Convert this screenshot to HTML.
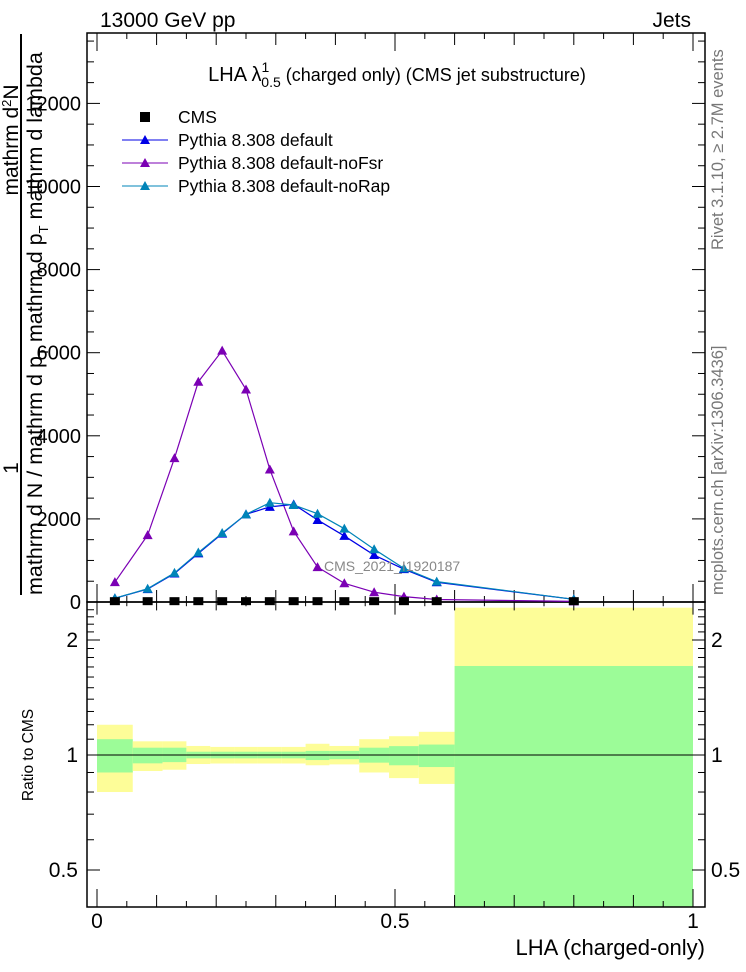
<!DOCTYPE html>
<html><head><meta charset="utf-8"><style>
body{margin:0;background:#fff;}
svg{display:block;font-family:"Liberation Sans",sans-serif;}
</style></head><body>
<svg id="c" width="746" height="972" xmlns="http://www.w3.org/2000/svg">
<g id="ratioBands"></g>
<g id="axes"></g>
<g id="series"></g>
<text x="100" y="27" font-size="21">13000 GeV pp</text>
<text x="691" y="27" font-size="21" text-anchor="end">Jets</text>
<text x="397" y="81" font-size="20" text-anchor="middle">LHA λ<tspan font-size="14" dy="-9">1</tspan><tspan font-size="14" dx="-8" dy="15">0.5</tspan><tspan font-size="18" dy="-6"> (charged only) (CMS jet substructure)</tspan></text>
<text x="324" y="571" font-size="14" fill="#888">CMS_2021_I1920187</text>
<text x="705" y="955" font-size="22" text-anchor="end">LHA (charged-only)</text>
<text transform="translate(33,755) rotate(-90)" font-size="15.5" text-anchor="middle">Ratio to CMS</text>
<line x1="21" y1="34" x2="21" y2="595" stroke="#000" stroke-width="2"/>
<text transform="translate(18,140) rotate(-90)" font-size="21" text-anchor="middle">mathrm d<tspan font-size="13" dy="-7">2</tspan><tspan dy="7">N</tspan></text>
<text transform="translate(18,468) rotate(-90)" font-size="21" text-anchor="middle">1</text>
<text transform="translate(42,595) rotate(-90)" font-size="21.5">mathrm d N / mathrm d p<tspan font-size="13" dy="6">T</tspan><tspan dy="-6"> mathrm d p</tspan><tspan font-size="13" dy="6">T</tspan><tspan dy="-6"> mathrm d lambda</tspan></text>
<text transform="translate(723,250) rotate(-90)" font-size="16.5" fill="#777">Rivet 3.1.10, ≥ 2.7M events</text>
<text transform="translate(723,595) rotate(-90)" font-size="16.5" fill="#777">mcplots.cern.ch [arXiv:1306.3436]</text>
<g id="legend"></g>
</svg>
<script>
const binEdges=[0,0.06,0.11,0.15,0.19,0.23,0.27,0.31,0.35,0.39,0.44,0.49,0.54,0.6,1.0];
const binCenters=[0.03,0.085,0.13,0.17,0.21,0.25,0.29,0.33,0.37,0.415,0.465,0.515,0.57,0.8];
const cmsValues=[20,20,20,20,20,20,20,20,20,20,20,20,20,20];
const defaultValues=[90,310,685,1170,1645,2110,2290,2350,1975,1590,1130,790,475,65];
const noFsrValues=[477,1609,3462,5300,6049,5115,3190,1700,840,450,236,130,60,15];
const noRapValues=[90,320,700,1190,1660,2110,2390,2335,2125,1765,1270,810,490,65];
const totUp=[1.20,1.086,1.086,1.056,1.05,1.05,1.05,1.05,1.07,1.056,1.10,1.12,1.15,2.43];
const totDn=[0.80,0.908,0.915,0.947,0.95,0.95,0.95,0.95,0.94,0.945,0.90,0.87,0.84,0.30];
const statUp=[1.10,1.045,1.045,1.02,1.02,1.02,1.02,1.02,1.025,1.025,1.045,1.055,1.065,1.71];
const statDn=[0.90,0.951,0.958,0.98,0.98,0.98,0.98,0.98,0.97,0.975,0.955,0.94,0.93,0.30];
const yMainTicks=[0,2000,4000,6000,8000,10000,12000];
const xTickLabels=[0,0.5,1];
const ratioTickLabels=[0.5,1,2];

const NS="http://www.w3.org/2000/svg";
const L=87,R=705,T=33,MB=602,RB=907;
const X=v=>97+596*v;
const Y=v=>602-v*0.04155;
const RY=r=>755-115*Math.log2(r);
function mk(tag,attrs,parent){const e=document.createElementNS(NS,tag);for(const k in attrs)e.setAttribute(k,attrs[k]);parent.appendChild(e);return e;}
const bands=document.getElementById('ratioBands'),axes=document.getElementById('axes'),ser=document.getElementById('series'),leg=document.getElementById('legend');
const clipTop=v=>Math.max(604,Math.min(RB,v));
for(let i=0;i<binCenters.length;i++){
  const x1=X(binEdges[i]),x2=X(binEdges[i+1]);
  let a=clipTop(RY(totUp[i])),b=clipTop(RY(totDn[i]));
  const y=mk('rect',{x:x1,y:a,width:x2-x1,height:b-a,fill:'#fdfd98'},bands);
  
  
  a=clipTop(RY(statUp[i]));b=clipTop(RY(statDn[i]));
  const g=mk('rect',{x:x1,y:a,width:x2-x1,height:b-a,fill:'#9cfc98'},bands);
  
  
}
const one=mk('line',{x1:L,x2:R,y1:RY(1),y2:RY(1),stroke:'#000','stroke-width':1},axes);


const f1=mk('rect',{x:L,y:T,width:R-L,height:MB-T,fill:'none',stroke:'#000','stroke-width':1.5},axes);


const f2=mk('rect',{x:L,y:MB,width:R-L,height:RB-MB,fill:'none',stroke:'#000','stroke-width':1.5},axes);


for(let v=0;v<=13500;v+=500){const y=Y(v);const len=v%2000===0?13:7;
  mk('line',{x1:L,x2:L+len,y1:y,y2:y,stroke:'#000'},axes);mk('line',{x1:R,x2:R-len,y1:y,y2:y,stroke:'#000'},axes);}
for(const v of yMainTicks){const t=mk('text',{x:81,y:Y(v)+7,'font-size':20,'text-anchor':'end'},axes);t.textContent=v;
  
  }
for(let k=0;k<=20;k++){const v=k*0.05;const x=X(v);const len=k%10===0?18:(k%2===0?12:6);
  mk('line',{x1:x,x2:x,y1:MB,y2:MB-len,stroke:'#000'},axes);mk('line',{x1:x,x2:x,y1:T,y2:T+len,stroke:'#000'},axes);
  mk('line',{x1:x,x2:x,y1:RB,y2:RB-len,stroke:'#000'},axes);mk('line',{x1:x,x2:x,y1:MB,y2:MB+len*0.7,stroke:'#000'},axes);}
for(const v of xTickLabels){const t=mk('text',{x:X(v),y:928,'font-size':21,'text-anchor':'middle'},axes);t.textContent=v;
  
  }
for(let k=4;k<=24;k++){const r=k/10;const y=RY(r);if(y<604||y>RB)continue;const len=(k===5||k===10||k===20)?13:7;
  mk('line',{x1:L,x2:L+len,y1:y,y2:y,stroke:'#000'},axes);mk('line',{x1:R,x2:R-len,y1:y,y2:y,stroke:'#000'},axes);}
for(const r of ratioTickLabels){const t=mk('text',{x:78,y:RY(r)+7,'font-size':21,'text-anchor':'end'},axes);t.textContent=r;
  
  
  const t2=mk('text',{x:711,y:RY(r)+7,'font-size':21},axes);t2.textContent=r;
  
  }
function tri(x,y,col,p){return mk('polygon',{points:`${x},${y-5} ${x-5},${y+4} ${x+5},${y+4}`,fill:col},p);}
function line(vals,col,name){const g=mk('g',{},ser);
  mk('polyline',{points:vals.map((v,i)=>X(binCenters[i])+','+Y(v)).join(' '),fill:'none',stroke:col,'stroke-width':1.2},g);
  vals.forEach((v,i)=>{const m=tri(X(binCenters[i]),Y(v),col,g);
    
    });}
line(noFsrValues,'#7b00b4','series-default-nofsr');
line(defaultValues,'#0000e6','series-default');
line(noRapValues,'#0084b8','series-default-norap');
const cg=mk('g',{},ser);
cmsValues.forEach((v,i)=>{const r=mk('rect',{x:X(binCenters[i])-5,y:Y(v)-4,width:10,height:8,fill:'#000'},cg);
  
  });
const items=[['CMS','#000','sq'],['Pythia 8.308 default','#0000e6','t'],['Pythia 8.308 default-noFsr','#7b00b4','t'],['Pythia 8.308 default-noRap','#0084b8','t']];
items.forEach((it,i)=>{const y=117+i*23;const g=mk('g',{},leg);
  if(it[2]==='sq')mk('rect',{x:140,y:y-5,width:10,height:10,fill:'#000'},g);
  else{mk('line',{x1:122,x2:168,y1:y,y2:y,stroke:it[1]},g);tri(145,y,it[1],g);}
  const t=mk('text',{x:178,y:y+6,'font-size':17.5},g);t.textContent=it[0];});
</script>
</body></html>
